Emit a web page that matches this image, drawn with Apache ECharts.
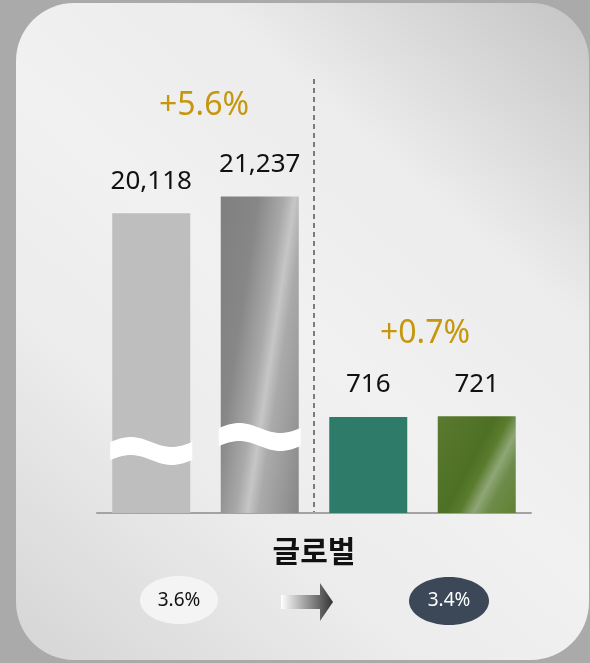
<!DOCTYPE html>
<html>
<head>
<meta charset="utf-8">
<script src="https://cdn.jsdelivr.net/npm/echarts@6/dist/echarts.min.js"></script>
<style>
    html, body { margin: 0; padding: 0; background: #a9a9a9; }
    #chart { width: 590px; height: 663px; }
</style>
</head>
<body>
<div id="chart"></div>
<script>
    // 데이터
    const categories = ['전년-1', '당년-1', '전년-2', '당년-2'];
    const bigValues = [20118, 21237, '-', '-'];
    const smallValues = ['-', '-', 716, 721];
    const brokenBars = [0, 1];
    const growthLabels = ['+5.6%', '+0.7%'];
    const groupName = '글로벌';
    const ratioBefore = '3.6%';
    const ratioAfter = '3.4%';

    // 스타일
    const barColors = [
        '#bebebe',
        { type: 'linear', x: 0, y: 0, x2: 1.58, y2: 0.059, colorStops: [
            { offset: 0, color: '#7f7f7f' }, { offset: 0.3, color: '#878787' },
            { offset: 0.5, color: '#a9a9a9' }, { offset: 0.59, color: '#c6c6c6' },
            { offset: 0.68, color: '#aaaaaa' }, { offset: 0.85, color: '#989898' },
            { offset: 1, color: '#868686' }] },
        '#2f7b69',
        { type: 'linear', x: 0, y: 0, x2: 1.295, y2: 0.553, colorStops: [
            { offset: 0, color: '#5b7b2f' }, { offset: 0.45, color: '#4d7024' },
            { offset: 0.56, color: '#5a7c2e' }, { offset: 0.67, color: '#8fa676' },
            { offset: 0.78, color: '#6e8b49' }, { offset: 1, color: '#5e8231' }] }
    ];
    const waveLift = [62, 76];
    const barWidth = 78;
    const gold = '#c6960c';
    const numFont = '"Noto Sans", sans-serif';

    const chart = echarts.init(document.getElementById('chart'));

    const toItems = arr => arr.map((v, i) => v === '-' ? '-' : { value: v, itemStyle: { color: barColors[i] } });

    const valueLabel = {
        show: true,
        position: 'top',
        distance: 19,
        fontSize: 26,
        fontFamily: numFont,
        color: '#111',
        formatter: p => Number(p.value).toLocaleString('en-US')
    };

    const option = {
        backgroundColor: '#aaaaaa',
        animation: false,
        grid: { left: 97, right: 59, top: 66, bottom: 150 },
        xAxis: {
            type: 'category',
            data: categories,
            axisLine: { lineStyle: { color: '#a3a3a3', width: 2 } },
            axisTick: { show: false },
            axisLabel: { show: false }
        },
        yAxis: [
            { type: 'value', min: 0, max: 30000, show: false, splitLine: { show: false } },
            { type: 'value', min: 0, max: 3330, show: false, splitLine: { show: false } }
        ],
        series: [
            {
                type: 'bar', yAxisIndex: 0, barWidth: barWidth, barGap: '-100%',
                data: toItems(bigValues), label: valueLabel
            },
            {
                type: 'bar', yAxisIndex: 1, barWidth: barWidth, barGap: '-100%',
                data: toItems(smallValues), label: valueLabel
            },
            {
                // 물결 모양 생략 표시
                type: 'custom', yAxisIndex: 0, z: 5,
                data: brokenBars.map(i => [i]),
                renderItem: (params, api) => {
                    const base = api.coord([api.value(0), 0]);
                    const cy = base[1] - waveLift[params.dataIndex];
                    const x0 = base[0] - barWidth / 2 - 2;
                    const w = barWidth + 4;
                    const top = [], bottom = [];
                    for (let k = 0; k <= 30; k++) {
                        const t = k / 30;
                        const dy = -5 * Math.sin(2 * Math.PI * t);
                        top.push([x0 + w * t, cy - 9 + dy]);
                        bottom.unshift([x0 + w * t, cy + 9 + dy]);
                    }
                    return { type: 'polygon', shape: { points: top.concat(bottom) }, style: { fill: '#fff' } };
                }
            }
        ],
        graphic: [
            {
                type: 'rect', z: -10, silent: true,
                shape: { x: 16, y: 3, width: 573, height: 657, r: 58 },
                style: {
                    fill: { type: 'linear', x: 0, y: 1, x2: 1, y2: 0, colorStops: [
                        { offset: 0, color: '#d5d5d5' }, { offset: 0.3, color: '#ececec' },
                        { offset: 0.5, color: '#f1f1f1' }, { offset: 0.72, color: '#ececec' },
                        { offset: 1, color: '#c4c4c4' }] }
                }
            },
            {
                type: 'line', z: 1,
                shape: { x1: 314, y1: 79, x2: 314, y2: 512 },
                style: { stroke: '#555', lineWidth: 1.5, lineDash: [5, 4] }
            },
            {
                type: 'text', x: 204, y: 106,
                style: { text: growthLabels[0], fill: gold, font: '32px ' + numFont, textAlign: 'center', textVerticalAlign: 'middle' }
            },
            {
                type: 'text', x: 425, y: 334,
                style: { text: growthLabels[1], fill: gold, font: '32px ' + numFont, textAlign: 'center', textVerticalAlign: 'middle' }
            },
            {
                type: 'text', x: 314, y: 551,
                style: { text: groupName, fill: '#111', font: 'bold 30px "Noto Sans CJK KR"', textAlign: 'center', textVerticalAlign: 'middle' }
            },
            {
                type: 'ellipse', shape: { cx: 179, cy: 600, rx: 39, ry: 24 },
                style: { fill: '#f4f4f4' }
            },
            {
                type: 'text', x: 179, y: 601,
                style: { text: ratioBefore, fill: '#111', font: '19px ' + numFont, textAlign: 'center', textVerticalAlign: 'middle' }
            },
            {
                type: 'polygon',
                shape: { points: [[281, 595], [320, 595], [320, 583], [333, 602], [320, 621], [320, 609], [281, 609]] },
                style: {
                    fill: { type: 'linear', x: 0, y: 0, x2: 1, y2: 0, colorStops: [
                        { offset: 0, color: '#ffffff' }, { offset: 1, color: '#333333' }] }
                }
            },
            {
                type: 'ellipse', shape: { cx: 449, cy: 601, rx: 40, ry: 24 },
                style: { fill: '#3c4858' }
            },
            {
                type: 'text', x: 449, y: 601,
                style: { text: ratioAfter, fill: '#fff', font: '19px ' + numFont, textAlign: 'center', textVerticalAlign: 'middle' }
            }
        ]
    };

    chart.setOption(option);
</script>
</body>
</html>
